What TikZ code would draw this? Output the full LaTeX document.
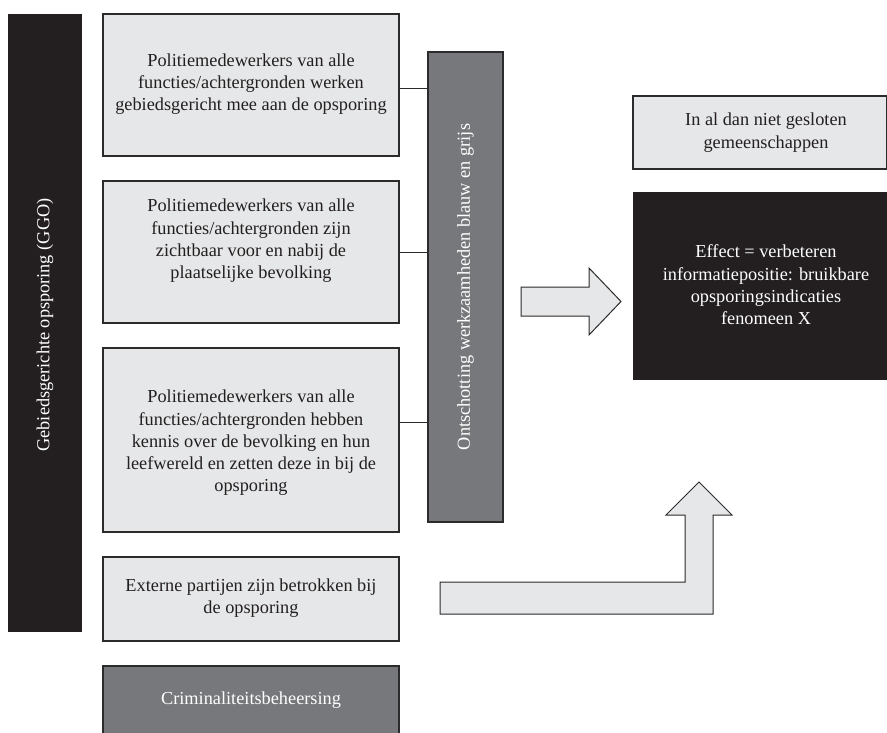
\documentclass[tikz,border=0pt]{standalone}
\usepackage{fontspec}
\setmainfont{Liberation Serif}
\definecolor{lightg}{HTML}{E6E7E8}
\definecolor{darkg}{HTML}{77787B}
\definecolor{blk}{HTML}{231F20}
\definecolor{edgec}{HTML}{2B2B2B}
\begin{document}
\begin{tikzpicture}[x=1pt,y=-1pt,
  lightbox/.style={draw=edgec, line width=1.2pt, fill=lightg, inner sep=0pt, outer sep=0pt},
  greybox/.style={draw=edgec, line width=1.2pt, fill=darkg, inner sep=0pt, outer sep=0pt},
  blackbox/.style={fill=blk, inner sep=0pt, outer sep=0pt},
  darktxt/.style={text=blk, align=center, font=\fontsize{18.3}{22.3}\selectfont, inner sep=0pt},
  whitetxt/.style={text=white, align=center, font=\fontsize{18.3}{22.3}\selectfont, inner sep=0pt},
  link/.style={draw=edgec, line width=0.9pt},
  bigarrow/.style={draw=edgec, line width=1pt, fill=lightg, line join=miter}
]
\useasboundingbox (0,0) rectangle (887,733);

% left bar
\node[blackbox, minimum width=74pt, minimum height=618pt] (lbar) at (45,323) {};
\node[whitetxt, rotate=90] (lbart) at (45,325) {Gebiedsgerichte opsporing (GGO)};

% left column boxes
\node[lightbox, minimum width=296pt, minimum height=142pt] (b1) at (251,85) {};
\node[darktxt] (b1t) at (251,84) {Politiemedewerkers van alle\\functies/achtergronden werken\\gebiedsgericht mee aan de opsporing};

\node[lightbox, minimum width=296pt, minimum height=142pt] (b2) at (251,252) {};
\node[darktxt] (b2t) at (251,241) {Politiemedewerkers van alle\\functies/achtergronden zijn\\zichtbaar voor en nabij de\\plaatselijke bevolking};

\node[lightbox, minimum width=296pt, minimum height=184pt] (b3) at (251,440) {};
\node[darktxt] (b3t) at (251,443) {Politiemedewerkers van alle\\functies/achtergronden hebben\\kennis over de bevolking en hun\\leefwereld en zetten deze in bij de\\opsporing};

\node[lightbox, minimum width=296pt, minimum height=84pt] (b4) at (251,599) {};
\node[darktxt] (b4t) at (251,598) {Externe partijen zijn betrokken bij\\de opsporing};

\node[greybox, minimum width=296pt, minimum height=79pt] (b5) at (251,705.5) {};
\node[whitetxt] (b5t) at (251,700) {Criminaliteitsbeheersing};

% grey vertical bar
\node[greybox, minimum width=75pt, minimum height=470pt] (gbar) at (465.5,287) {};
\node[whitetxt, rotate=90] (gbart) at (465.5,287) {Ontschotting werkzaamheden blauw en grijs};

% connectors
\coordinate (c1) at ([yshift=-3pt]b1.east);
\coordinate (c2) at (b2.east);
\coordinate (c3) at ([yshift=18pt]b3.east);
\draw[link] (c1) -- (c1 -| gbar.west);
\draw[link] (c2) -- (c2 -| gbar.west);
\draw[link] (c3) -- (c3 -| gbar.west);

% right boxes
\node[lightbox, minimum width=253.5pt, minimum height=73pt] (rt) at (759.75,132.5) {};
\node[darktxt] (rtt) at (766,132.5) {In al dan niet gesloten\\gemeenschappen};

\node[blackbox, minimum width=267pt, minimum height=188pt] (eff) at (766.5,286) {};
\node[whitetxt] (efft) at (766,285) {Effect = verbeteren\\informatiepositie: bruikbare\\opsporingsindicaties\\fenomeen X};

% block arrows
\draw[bigarrow] (521,287) -- (589,287) -- (589,268) -- (621,301.5) -- (589,335) -- (589,316) -- (521,316) -- cycle;
\draw[bigarrow] (440,582) -- (685,582) -- (685,515) -- (666,515) -- (699,482) -- (732,515) -- (713,515) -- (713,614) -- (440,614) -- cycle;
\end{tikzpicture}
\end{document}
